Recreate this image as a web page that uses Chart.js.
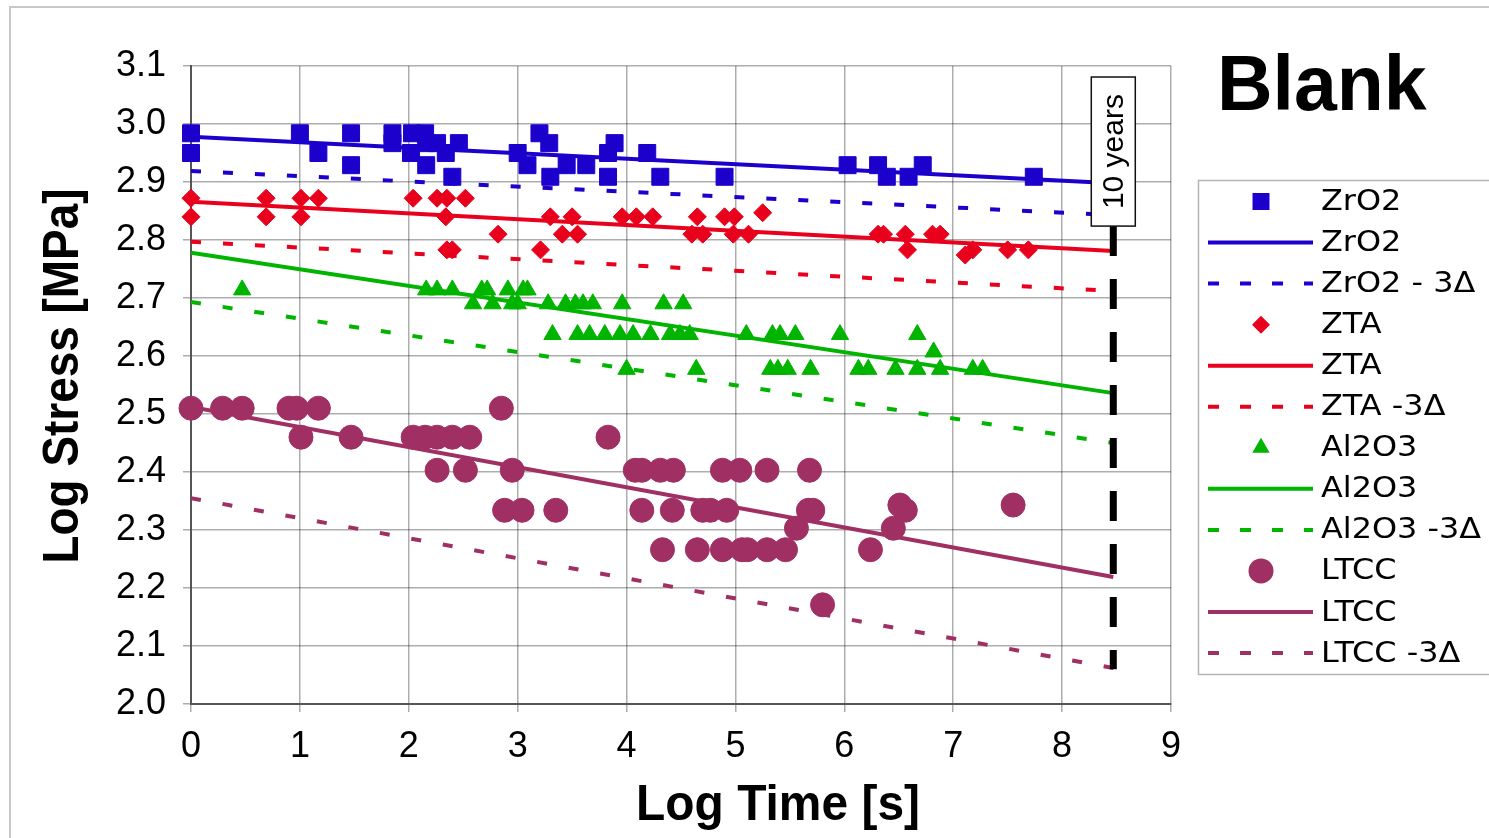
<!DOCTYPE html>
<html>
<head>
<meta charset="utf-8">
<title>Blank - Log Stress vs Log Time</title>
<script src="https://cdn.jsdelivr.net/npm/chart.js@4.4.0/dist/chart.umd.min.js"></script>
<style>
  html, body { margin: 0; padding: 0; background: #fff; }
  #wrap { position: relative; width: 1489px; height: 838px; overflow: hidden; }
  #frame { position: absolute; left: 9px; top: 6px; width: 1520px; height: 900px; border: 2px solid #c8c8c8; box-sizing: border-box; }
  canvas { position: absolute; left: 0; top: 0; }
</style>
</head>
<body>
<div id="wrap">
  <div id="frame"></div>
  <canvas id="chart" width="1489" height="838"></canvas>
</div>
<script>
// measured points (log time, log stress)
const zro2X = [0, 0, 1.00, 1.17, 1.47, 1.47, 1.85, 1.85, 2.03, 2.02, 2.15, 2.16, 2.16, 2.26, 2.34, 2.46, 2.40,
  3.00, 3.09, 3.20, 3.29, 3.30, 3.45, 3.63, 3.83, 3.83, 3.89, 4.19, 4.31, 4.90, 6.03, 6.31, 6.39, 6.59, 6.72, 7.74];
const zro2Y = [2.984, 2.950, 2.984, 2.950, 2.984, 2.929, 2.984, 2.967, 2.984, 2.950, 2.984, 2.967, 2.929, 2.967, 2.950, 2.967, 2.909,
  2.950, 2.929, 2.984, 2.967, 2.909, 2.929, 2.929, 2.909, 2.950, 2.967, 2.950, 2.909, 2.909, 2.929, 2.929, 2.909, 2.909, 2.929, 2.909];

const ztaX = [0, 0, 0.69, 0.69, 1.01, 1.01, 1.17, 2.04, 2.26, 2.35, 2.52, 2.34, 2.82, 2.35, 2.40, 3.21, 3.30, 3.50, 3.41, 3.55,
  3.96, 4.09, 4.24, 4.65, 4.60, 4.70, 4.90, 4.99, 4.98, 5.12, 5.25, 6.31, 6.36, 6.56, 6.58, 6.81, 6.88, 7.11, 7.18, 7.50, 7.69];
const ztaY = [2.872, 2.840, 2.872, 2.840, 2.872, 2.840, 2.872, 2.872, 2.872, 2.872, 2.872, 2.840, 2.810, 2.783, 2.783, 2.783, 2.840, 2.840, 2.810, 2.810,
  2.840, 2.840, 2.840, 2.840, 2.810, 2.810, 2.840, 2.840, 2.810, 2.810, 2.847, 2.810, 2.810, 2.810, 2.783, 2.810, 2.810, 2.774, 2.783, 2.783, 2.783];

const al2o3X = [0.47, 2.16, 2.26, 2.40, 2.67, 2.72, 2.91, 3.05, 3.09,
  2.59, 2.77, 2.95, 3.00, 3.28, 3.44, 3.53, 3.60, 3.69, 3.96, 4.34, 4.52,
  3.32, 3.55, 3.66, 3.80, 3.94, 4.06, 4.22, 4.40, 4.49, 4.58, 5.10, 5.34, 5.41, 5.55, 5.96, 6.67,
  6.82,
  4.00, 4.64, 5.32, 5.39, 5.48, 5.69, 6.13, 6.22, 6.47, 6.67, 6.88, 7.18, 7.27];
const al2o3Y = [2.714, 2.714, 2.714, 2.714, 2.714, 2.714, 2.714, 2.714, 2.714,
  2.690, 2.690, 2.690, 2.690, 2.690, 2.690, 2.690, 2.690, 2.690, 2.690, 2.690, 2.690,
  2.637, 2.637, 2.637, 2.637, 2.637, 2.637, 2.637, 2.637, 2.637, 2.637, 2.637, 2.637, 2.637, 2.637, 2.637, 2.637,
  2.607,
  2.577, 2.577, 2.577, 2.577, 2.577, 2.577, 2.577, 2.577, 2.577, 2.577, 2.577, 2.577, 2.577];

const ltccX = [0, 0.29, 0.47, 0.90, 0.97, 1.17, 2.85,
  1.01, 1.47, 2.04, 2.15, 2.26, 2.40, 2.56, 3.83,
  2.26, 2.52, 2.95, 4.08, 4.14, 4.31, 4.43, 4.88, 5.04, 5.29, 5.68,
  2.88, 3.04, 3.35, 4.14, 4.42, 4.70, 4.77, 4.92, 5.67, 5.71, 6.56,
  6.51, 7.55, 5.56, 6.45,
  4.33, 4.65, 4.88, 5.06, 5.11, 5.29, 5.46, 6.24,
  5.80];
const ltccY = [2.510, 2.510, 2.510, 2.510, 2.510, 2.510, 2.510,
  2.460, 2.460, 2.460, 2.460, 2.460, 2.460, 2.460, 2.460,
  2.403, 2.403, 2.403, 2.403, 2.403, 2.403, 2.403, 2.403, 2.403, 2.403, 2.403,
  2.334, 2.334, 2.334, 2.334, 2.334, 2.334, 2.334, 2.334, 2.334, 2.334, 2.334,
  2.343, 2.343, 2.303, 2.303,
  2.266, 2.266, 2.266, 2.266, 2.266, 2.266, 2.266, 2.266,
  2.171];

// fitted lines and -3Δ lines, from log t = 0 to 10 years
const fitX = [0, 8.47];
const zro2Fit = [2.978, 2.898];
const zro2Low = [2.919, 2.843];
const ztaFit = [2.866, 2.781];
const ztaLow = [2.797, 2.712];
const al2o3Fit = [2.778, 2.536];
const al2o3Low = [2.693, 2.450];
const ltccFit = [2.512, 2.219];
const ltccLow = [2.355, 2.062];

// 10 years marker
const tenYearsX = 8.47;
const tenYearsY = [2.824, 2.06];
const tenYearsBoxTop = 3.081;

const xRange = [0, 9];
const yRange = [2.0, 3.1];

const pts = (xs, ys) => xs.map((x, i) => ({ x: x, y: ys[i] }));

const BLUE = '#1c00cc';
const RED = '#e8001c';
const GREEN = '#00b400';
const PURPLE = '#a03064';
const DASH = [10, 22];

function markerSet(label, xs, ys, color, style, r) {
    return {
        label: label, data: pts(xs, ys), showLine: false,
        pointStyle: style, pointRadius: r, pointHoverRadius: r,
        backgroundColor: color, borderColor: color, borderWidth: 1,
        clip: false, order: 0
    };
}
function lineSet(label, ys, color, dashed) {
    return {
        label: label, data: pts(fitX, ys), showLine: true,
        borderColor: color, backgroundColor: color, borderWidth: 4,
        borderDash: dashed ? DASH : [], pointRadius: 0, pointHoverRadius: 0,
        order: dashed ? 2 : 1
    };
}

const datasets = [
    markerSet('ZrO2', zro2X, zro2Y, BLUE, 'rect', 12),
    lineSet('ZrO2', zro2Fit, BLUE, false),
    lineSet('ZrO2 - 3Δ', zro2Low, BLUE, true),
    markerSet('ZTA', ztaX, ztaY, RED, 'rectRot', 9),
    lineSet('ZTA', ztaFit, RED, false),
    lineSet('ZTA -3Δ', ztaLow, RED, true),
    markerSet('Al2O3', al2o3X, al2o3Y, GREEN, 'triangle', 10),
    lineSet('Al2O3', al2o3Fit, GREEN, false),
    lineSet('Al2O3 -3Δ', al2o3Low, GREEN, true),
    markerSet('LTCC', ltccX, ltccY, PURPLE, 'circle', 12),
    lineSet('LTCC', ltccFit, PURPLE, false),
    lineSet('LTCC -3Δ', ltccLow, PURPLE, true),
    {
        label: '10 years', data: [{ x: tenYearsX, y: tenYearsY[0] }, { x: tenYearsX, y: tenYearsY[1] }],
        showLine: true, borderColor: '#000', borderWidth: 7, borderDash: [30, 23],
        pointRadius: 0, pointHoverRadius: 0, order: 0, noLegend: true
    }
];

const SANS = '"Liberation Sans", Arial, Helvetica, sans-serif';

function drawMarker(ctx, style, x, y, r) {
    ctx.beginPath();
    if (style === 'rect') {
        const s = r * Math.SQRT1_2;
        ctx.rect(x - s, y - s, 2 * s, 2 * s);
    } else if (style === 'rectRot') {
        ctx.moveTo(x, y - r); ctx.lineTo(x + r, y); ctx.lineTo(x, y + r); ctx.lineTo(x - r, y);
        ctx.closePath();
    } else if (style === 'triangle') {
        ctx.moveTo(x, y - r);
        ctx.lineTo(x + r * Math.sin(2 * Math.PI / 3), y + r * 0.5);
        ctx.lineTo(x - r * Math.sin(2 * Math.PI / 3), y + r * 0.5);
        ctx.closePath();
    } else {
        ctx.arc(x, y, r, 0, Math.PI * 2);
    }
    ctx.fill();
}

function squeezedText(ctx, text, cx, cy, rot, font, target) {
    ctx.save();
    ctx.font = font;
    const w = ctx.measureText(text).width;
    ctx.translate(cx, cy);
    ctx.rotate(rot);
    ctx.scale(Math.min(1, target / w), 1);
    ctx.textAlign = 'center';
    ctx.textBaseline = 'middle';
    ctx.fillStyle = '#000';
    ctx.fillText(text, 0, 0);
    ctx.restore();
}

const overlay = {
    id: 'overlay',
    afterDatasetsDraw(chart) {
        const { ctx, scales: { x, y } } = chart;
        // 10 years box
        const cx = x.getPixelForValue(tenYearsX);
        const top = y.getPixelForValue(tenYearsBoxTop);
        const bot = y.getPixelForValue(tenYearsY[0]);
        ctx.save();
        ctx.fillStyle = '#fff';
        ctx.strokeStyle = '#111';
        ctx.lineWidth = 1.5;
        ctx.fillRect(cx - 22, top, 44, bot - top);
        ctx.strokeRect(cx - 22, top, 44, bot - top);
        ctx.translate(cx, (top + bot) / 2);
        ctx.rotate(-Math.PI / 2);
        ctx.font = '30px ' + SANS;
        ctx.textAlign = 'center';
        ctx.textBaseline = 'middle';
        ctx.fillStyle = '#000';
        ctx.fillText('10 years', 0, 1);
        ctx.restore();
    },
    afterDraw(chart) {
        const ctx = chart.ctx;

        // axis titles
        squeezedText(ctx, 'Log Time [s]', 778, 806, 0, 'bold 50px ' + SANS, 284);
        squeezedText(ctx, 'Log Stress [MPa]', 64, 376, -Math.PI / 2, 'bold 50px ' + SANS, 375);

        // title
        ctx.save();
        ctx.font = 'bold 77px ' + SANS;
        ctx.fillStyle = '#000';
        ctx.textAlign = 'left';
        ctx.textBaseline = 'alphabetic';
        ctx.fillText('Blank', 1217, 110);
        ctx.restore();

        // legend
        ctx.save();
        ctx.strokeStyle = '#b4b4b4';
        ctx.lineWidth = 1.5;
        ctx.fillStyle = '#fff';
        ctx.fillRect(1198.5, 180.5, 300, 494);
        ctx.strokeRect(1198.5, 180.5, 300, 494);
        const items = chart.data.datasets.filter(d => !d.noLegend);
        items.forEach((d, i) => {
            const ry = 201.5 + i * 41.05;
            if (d.showLine) {
                ctx.save();
                ctx.strokeStyle = d.borderColor;
                ctx.lineWidth = 4;
                ctx.setLineDash(d.borderDash.length ? [11, 21] : []);
                ctx.beginPath();
                ctx.moveTo(1208, ry);
                ctx.lineTo(1313, ry);
                ctx.stroke();
                ctx.restore();
            } else {
                ctx.fillStyle = d.backgroundColor;
                const r = { rect: 12, rectRot: 9, triangle: 10, circle: 12.5 }[d.pointStyle];
                drawMarker(ctx, d.pointStyle, 1261, ry, r);
            }
            ctx.save();
            ctx.fillStyle = '#000';
            ctx.font = '29px "DejaVu Sans", Verdana, sans-serif';
            ctx.textAlign = 'left';
            ctx.textBaseline = 'middle';
            ctx.translate(1321, ry + 1);
            ctx.scale(1.1, 1);
            ctx.fillText(d.label, 0, 0);
            ctx.restore();
        });
        ctx.restore();
    }
};

new Chart(document.getElementById('chart').getContext('2d'), {
    type: 'scatter',
    data: { datasets: datasets },
    options: {
        responsive: false,
        animation: false,
        events: [],
        layout: { padding: { left: 0, top: 66, right: 318, bottom: 0 } },
        plugins: {
            legend: { display: false },
            tooltip: { enabled: false },
            title: { display: false }
        },
        scales: {
            x: {
                type: 'linear',
                min: xRange[0], max: xRange[1],
                afterFit: s => { s.height = 134; },
                ticks: { stepSize: 1, color: '#000', padding: 13, font: { family: SANS, size: 36 } },
                grid: { color: 'rgba(0,0,0,0.32)', lineWidth: 1.5, tickLength: 8 },
                border: { color: '#555', width: 2 }
            },
            y: {
                type: 'linear',
                min: yRange[0], max: yRange[1],
                afterFit: s => { s.width = 191; },
                ticks: { stepSize: 0.1, color: '#000', padding: 17, font: { family: SANS, size: 36 },
                    callback: v => v.toFixed(1) },
                grid: { color: 'rgba(0,0,0,0.32)', lineWidth: 1.5, tickLength: 8 },
                border: { color: '#555', width: 2 }
            }
        }
    },
    plugins: [overlay]
});
</script>
</body>
</html>
